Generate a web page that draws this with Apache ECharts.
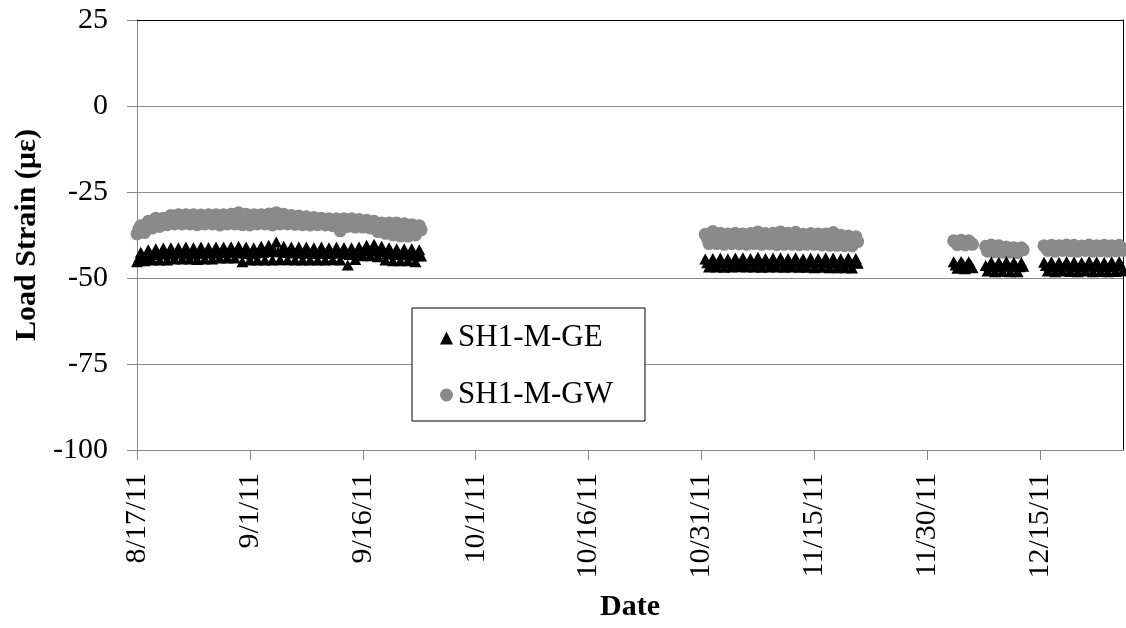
<!DOCTYPE html>
<html>
<head>
<meta charset="utf-8">
<script src="https://cdn.jsdelivr.net/npm/echarts@6/dist/echarts.min.js"></script>
<style>
html,body{margin:0;padding:0;background:#fff;}
#chart{width:1126px;height:628px;}
</style>
</head>
<body>
<div id="chart"></div>
<script>
// ---- Data (readings every 6 hours within each recording period) ----
const stepHours = 6;
const axisStart = '2011-08-17 00';
const axisEnd = '2011-12-26 00';
const xTickLabels = ['8/17/11','9/1/11','9/16/11','10/1/11','10/16/11','10/31/11','11/15/11','11/30/11','12/15/11'];
const yTicks = [-100, -75, -50, -25, 0, 25];

const segStarts = ['2011-08-17 00', '2011-10-31 12', '2011-12-03 12', '2011-12-07 18', '2011-12-15 12'];

const GE_seg1 = [
 -45.3,-44.2,-42.5,-43.6, -45,-43.6,-41.8,-43, -44.8,-43.2,-41.5,-42.9, -44.8,-42.9,-41.3,-43,
 -44.8,-43,-41.2,-42.8, -44.5,-42.8,-41.2,-42.7, -44.5,-42.6,-41,-42.9, -44.5,-43,-41.2,-42.6,
 -44.6,-42.7,-41,-42.8, -44.5,-42.6,-41.1,-42.7, -44.5,-42.7,-41,-42.6, -44.2,-42.5,-41,-42.6,
 -44.2,-42.4,-40.9,-42.5, -44.2,-42.3,-40.8,-42.6, -45.3,-42.8,-41,-42.9, -44.8,-43,-41.2,-42.7,
 -44.8,-42.6,-40.8,-42.5, -44.8,-42.4,-40.5,-42.3, -44.8,-42,-39.5,-42.4, -44.7,-42.4,-40.8,-42.6,
 -44.7,-42.6,-41,-42.7, -44.8,-42.5,-41,-42.8, -44.8,-42.6,-41,-42.7, -44.8,-42.7,-41.2,-42.9,
 -44.8,-42.6,-41,-42.8, -44.8,-42.7,-41.2,-42.8, -44.7,-42.6,-41,-42.7, -44.8,-42.5,-41.1,-42.9,
 -46.2,-43.2,-41.2,-42.8, -44.6,-42.6,-41,-42.5, -43.5,-42.1,-40.5,-42, -43.5,-42,-40.2,-41.9,
 -43.8,-42.3,-40.8,-42.4, -44.8,-42.9,-41.2,-43, -45,-43.1,-41.5,-43.2, -45,-43.2,-41.5,-43.1,
 -45,-43.3,-41.5,-43.3, -45.3,-43.5,-41.8,-43.6
];
const GW_seg1 = [
 -37.2,-35.8,-34.8,-35.5, -36.8,-35.2,-33.5,-34.6, -35.5,-34.2,-32.6,-33.8, -35,-33.6,-32.6,-33.5,
 -34.5,-33.1,-31.8,-33, -34.3,-33,-31.6,-32.9, -34.3,-32.9,-31.6,-33, -34.3,-33,-31.6,-32.8,
 -34.5,-33.1,-31.7,-33, -34.3,-32.9,-31.6,-32.9, -34.3,-33,-31.6,-33, -34.6,-33.1,-31.6,-32.9,
 -34.3,-32.8,-31.5,-32.8, -34.3,-32.7,-31,-32.6, -34.5,-32.9,-31.5,-32.9, -34.6,-33,-31.6,-33,
 -34.3,-33,-31.6,-32.9, -34.3,-32.8,-31.4,-32.7, -34.6,-32.6,-31,-32.6, -34.3,-32.8,-31.5,-32.9,
 -34.3,-33,-31.8,-33.1, -34.4,-33.1,-32,-33.2, -34.5,-33.3,-32.2,-33.3, -34.6,-33.4,-32.4,-33.5,
 -34.5,-33.5,-32.6,-33.6, -34.6,-33.6,-32.8,-33.7, -34.8,-33.7,-32.8,-33.8, -36.3,-34.2,-32.8,-33.9,
 -35,-34,-32.8,-34, -35.2,-34.1,-33,-34.1, -35.2,-34.2,-33.2,-34.3, -35.5,-34.6,-33.5,-34.8,
 -36.5,-35.2,-34,-35.4, -37,-35.6,-34,-35.5, -37.5,-35.7,-34,-35.8, -37.8,-36,-34.2,-36,
 -37.8,-36.1,-34.5,-36.2, -37.5,-36.1,-34.8,-36
];

const GE_seg2 = [
 -44.5,-45.6,
 -46.8,-45.6,-44.3,-45.5, -46.8,-45.4,-44.2,-45.6, -46.9,-45.5,-44.4,-45.4, -46.8,-45.4,-44.2,-45.5,
 -46.7,-45.3,-44.1,-45.4, -46.8,-45.4,-44.3,-45.6, -46.8,-45.2,-44,-45.3, -46.9,-45.5,-44.3,-45.5,
 -46.8,-45.4,-44.2,-45.4, -46.8,-45.3,-44.1,-45.5, -46.9,-45.5,-44.3,-45.6, -46.8,-45.3,-44.1,-45.4,
 -46.9,-45.5,-44.4,-45.6, -46.9,-45.4,-44.2,-45.5, -47,-45.5,-44.3,-45.6, -46.9,-45.4,-44.1,-45.5,
 -47,-45.5,-44.2,-45.6, -47,-45.6,-44.4,-45.7, -47,-45.5,-44.2,-45.6, -47.1,-45.6,-44.3,-45.7
];
const GW_seg2 = [
 -37.3,-38.4,
 -40,-38.3,-36.5,-38.1, -40,-38.4,-37,-38.3, -40.2,-38.6,-37.2,-38.5, -40,-38.4,-37,-38.2,
 -40.1,-38.5,-37.2,-38.4, -40.2,-38.5,-37.1,-38.5, -40,-38.3,-36.6,-38.2, -40.2,-38.6,-37.1,-38.5,
 -40.1,-38.4,-37,-38.3, -40.3,-38.5,-36.6,-38.4, -40.2,-38.5,-37,-38.4, -40.2,-38.4,-36.7,-38.3,
 -40.3,-38.6,-37.3,-38.6, -40.2,-38.5,-37.1,-38.4, -40.2,-38.5,-37.2,-38.5, -40.4,-38.7,-37.2,-38.6,
 -40.5,-38.7,-36.8,-38.6, -40.5,-38.9,-37.6,-38.9, -40.6,-39.1,-37.8,-39.2, -40.7,-39.3,-38,-39.4
];

const GE_seg3a = [-45.3,-46.2, -47.2,-46.1,-45.2,-46, -47.3,-46.2,-45.3,-46.1, -47];
const GW_seg3a = [-39.2,-39.6, -40.3,-39.7,-39,-39.6, -40.4,-39.8,-39.2,-39.7, -40.2];

const GE_seg3b = [-46.4, -48,-46.6,-45.3,-46.5, -48.2,-46.7,-45.4,-46.6, -48.1,-46.5,-45.2,-46.4,
 -48.2,-46.6,-45.4,-46.5, -48.2,-46.7,-45.5,-46.6];
const GW_seg3b = [-40.8, -42.2,-41.3,-40.4,-41.2, -42.4,-41.5,-40.6,-41.4, -42.5,-41.7,-41,-41.6,
 -42.5,-41.8,-41.2,-41.7, -42.6,-41.9,-41.2,-41.8];

const GE_seg4 = [
 -45.4,-46.4,
 -48,-46.6,-45.3,-46.5, -48.2,-46.7,-45.4,-46.6, -48,-46.5,-45.2,-46.4, -48.1,-46.6,-45.3,-46.5,
 -48.2,-46.7,-45.5,-46.6, -48,-46.5,-45.2,-46.4, -48.2,-46.6,-45.3,-46.5, -48.1,-46.7,-45.4,-46.6,
 -48.2,-46.6,-45.3,-46.5, -48.1,-46.5,-45.2,-46.4,
 -48
];
const GW_seg4 = [
 -40.6,-41.2,
 -42,-41.3,-40.5,-41.2, -42.2,-41.4,-40.6,-41.3, -42,-41.2,-40.4,-41.1, -42.1,-41.3,-40.5,-41.2,
 -42.2,-41.4,-40.7,-41.3, -42,-41.2,-40.4,-41.1, -42.2,-41.4,-40.6,-41.3, -42.1,-41.3,-40.5,-41.2,
 -42.2,-41.4,-40.6,-41.3, -42.1,-41.3,-40.5,-41.2,
 -42
];

const seriesNames = ['SH1-M-GE', 'SH1-M-GW'];

// ---- Helpers ----
const DAY = 86400000;
function parseTs(s) {
  const [d, h] = s.split(' ');
  const [y, m, dd] = d.split('-').map(Number);
  return Date.UTC(y, m - 1, dd, Number(h || 0));
}
const t0 = parseTs(axisStart);
function dayOffset(s) { return (parseTs(s) - t0) / DAY; }
function labelToDay(lbl) {
  const [m, d, y] = lbl.split('/').map(Number);
  return (Date.UTC(2000 + y, m - 1, d) - t0) / DAY;
}
function build(segs) {
  const out = [];
  segs.forEach((vals, i) => {
    const s = dayOffset(segStarts[i]);
    vals.forEach((v, k) => out.push([s + k * stepHours / 24, v]));
  });
  return out;
}
const geData = build([GE_seg1, GE_seg2, GE_seg3a, GE_seg3b, GE_seg4]);
const gwData = build([GW_seg1, GW_seg2, GW_seg3a, GW_seg3b, GW_seg4]);
const xTickDays = xTickLabels.map(labelToDay);
const xMax = dayOffset(axisEnd);

const FONT = 'Liberation Serif';
const GRAY_AXIS = '#878787';

const chart = echarts.init(document.getElementById('chart'), null, {renderer: 'canvas'});
chart.setOption({
  animation: false,
  backgroundColor: '#fff',
  grid: {left: 137, right: 3, top: 20, bottom: 178, containLabel: false, outerBoundsMode: 'none'},
  legend: {
    left: 412, top: 308,
    orient: 'vertical',
    data: seriesNames,
    selectedMode: false,
    backgroundColor: '#fff',
    borderColor: '#000',
    borderWidth: 1,
    padding: [13, 32, 9, 28],
    itemWidth: 13, itemHeight: 13,
    itemGap: 23,
    itemStyle: {borderWidth: 0},
    textStyle: {fontFamily: FONT, fontSize: 31, color: '#000', lineHeight: 34}
  },
  xAxis: [{
    type: 'value',
    min: 0, max: xMax,
    name: 'Date',
    nameLocation: 'middle',
    nameGap: 142,
    nameTextStyle: {fontFamily: FONT, fontSize: 30, fontWeight: 'bold', color: '#000'},
    axisLine: {show: true, onZero: false, lineStyle: {color: GRAY_AXIS, width: 1}},
    axisTick: {show: true, length: 10, inside: false, customValues: xTickDays, lineStyle: {color: GRAY_AXIS}},
    axisLabel: {
      show: true, rotate: 90, margin: 23,
      customValues: xTickDays,
      fontFamily: FONT, fontSize: 30, color: '#000',
      formatter: (v) => { const i = xTickDays.indexOf(v); return i >= 0 ? xTickLabels[i] : ''; }
    },
    splitLine: {show: false}
  }, {
    type: 'value', position: 'top', min: 0, max: xMax,
    axisLine: {show: true, onZero: false, lineStyle: {color: '#000', width: 1}},
    axisTick: {show: false}, axisLabel: {show: false}, splitLine: {show: false}
  }],
  yAxis: [{
    type: 'value',
    min: yTicks[0], max: yTicks[yTicks.length - 1], interval: 25,
    name: 'Load Strain (µε)',
    nameLocation: 'middle',
    nameGap: 95,
    nameRotate: 90,
    nameTextStyle: {fontFamily: FONT, fontSize: 30, fontWeight: 'bold', color: '#000'},
    axisLine: {show: true, onZero: false, lineStyle: {color: GRAY_AXIS, width: 1}},
    axisTick: {show: true, length: 10, inside: false, lineStyle: {color: GRAY_AXIS}},
    axisLabel: {margin: 29, fontFamily: FONT, fontSize: 30, color: '#000'},
    splitLine: {show: true, lineStyle: {color: '#8c8c8c', width: 1}}
  }, {
    type: 'value', position: 'right',
    min: yTicks[0], max: yTicks[yTicks.length - 1], interval: 25,
    axisLine: {show: true, onZero: false, lineStyle: {color: '#000', width: 1}},
    axisTick: {show: false}, axisLabel: {show: false}, splitLine: {show: false}
  }],
  series: [{
    name: seriesNames[0],
    type: 'scatter',
    xAxisIndex: 0, yAxisIndex: 0,
    symbol: 'triangle',
    symbolSize: [12, 11],
    itemStyle: {color: '#000', opacity: 1},
    z: 3,
    data: geData
  }, {
    name: seriesNames[1],
    type: 'scatter',
    xAxisIndex: 0, yAxisIndex: 0,
    symbol: 'circle',
    symbolSize: 13,
    itemStyle: {color: '#8a8a8a', opacity: 1},
    z: 2,
    data: gwData
  }]
});
</script>
</body>
</html>
